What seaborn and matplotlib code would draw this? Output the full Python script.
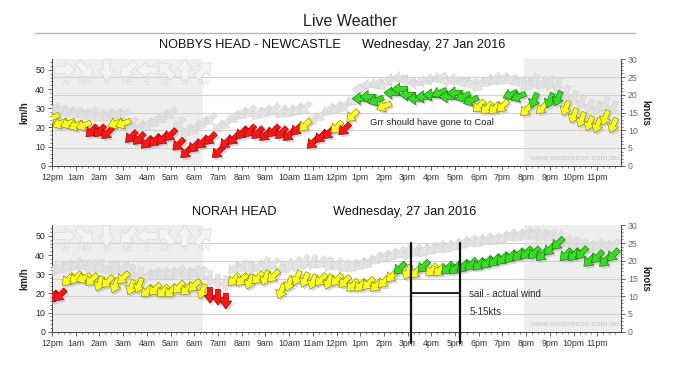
import numpy as np
import pandas as pd
import matplotlib
matplotlib.use('Agg')
import matplotlib.pyplot as plt
from matplotlib.path import Path
from matplotlib.markers import MarkerStyle
from matplotlib.transforms import Affine2D
from matplotlib.lines import Line2D
import seaborn as sns

# observations every 20 minutes (hours after midnight)
obs_hours = np.arange(72) / 3

# NOBBYS HEAD - NEWCASTLE
nobbys_kmh = [25, 22, 22, 21, 21, 18, 18, 17, 22, 22, 15, 14,
              12, 13, 14, 16, 11, 7, 10, 12, 14, 7, 12, 14,
              17, 18, 17, 16, 18, 17, 16, 19, 21, 12, 15, 17,
              20, 19, 26, 35, 36, 34, 31, 38, 40, 37, 35, 36,
              37, 38, 36, 38, 36, 34, 31, 30, 30, 31, 37, 36,
              29, 34, 30, 34, 35, 30, 26, 24, 22, 21, 25, 21]
nobbys_gust = [30, 29, 28, 28, 27, 27, 26, 26, 27, 27, 22, 20,
               21, 23, 25, 27, 22, 18, 19, 22, 24, 20, 22, 25,
               27, 28, 27, 28, 29, 28, 28, 29, 30, 24, 26, 29,
               30, 31, 34, 40, 42, 43, 42, 45, 46, 44, 43, 44,
               45, 46, 44, 45, 44, 43, 42, 44, 45, 45, 45, 44,
               42, 44, 43, 43, 42, 38, 35, 33, 31, 30, 32, 30]
nobbys_dir = ('ENE ENE ENE ENE ENE NE NE NE ENE ENE NE NE '
              'NE NE NE NE NE NE NE NE NE NE NE NE '
              'NE NE NE NE NE NE NE NE NE NE NE NE '
              'NE NE NE E E ENE ENE E E E E E '
              'E ENE E E ENE ENE NE NE NE NE ENE ENE '
              'NE NNE NE NNE NNE NNE NNE NNE NNE NNE NNE NNE').split()

# NORAH HEAD
norah_kmh = [18, 19, 27, 28, 28, 27, 25, 26, 24, 28, 23, 24,
             21, 22, 21, 21, 23, 22, 24, 21, 19, 18, 16, 27,
             27, 26, 28, 28, 29, 21, 25, 28, 27, 26, 27, 26,
             27, 26, 24, 24, 25, 24, 26, 29, 33, 31, 31, 34,
             32, 32, 33, 33, 34, 35, 35, 36, 37, 38, 39, 40,
             41, 41, 40, 43, 46, 40, 40, 41, 37, 39, 37, 40]
norah_gust = [32, 33, 34, 35, 35, 34, 34, 33, 33, 33, 31, 30,
              29, 30, 30, 30, 31, 30, 31, 30, 28, 26, 25, 33,
              34, 33, 34, 35, 35, 33, 34, 35, 36, 36, 36, 35,
              35, 34, 34, 35, 36, 38, 39, 40, 41, 41, 42, 42,
              43, 44, 44, 45, 46, 47, 47, 48, 48, 49, 50, 50,
              51, 51, 50, 50, 49, 47, 46, 45, 44, 45, 44, 45]
norah_dir = ('NE NE NE NE ENE NE NNE NE NNE NE NNE NNE '
             'NE NE NE NE NE NE NE NNE N N N NE '
             'NE NNE NE NNE NE NNE NNE NNE NNE NNE NE NNE '
             'NE NE NE NE NE NE NE NE NE NNE NE NE '
             'NE NE NE NE NE NE NE NE NE NE NE NE '
             'NE NE NE NE NE NE NE NE NE NE NE NE').split()

hour_labels = ['12pm', '1am', '2am', '3am', '4am', '5am', '6am', '7am', '8am',
               '9am', '10am', '11am', '12pm', '1pm', '2pm', '3pm', '4pm', '5pm',
               '6pm', '7pm', '8pm', '9pm', '10pm', '11pm']
compass = ['W', 'NW', 'N', 'NE', 'E', 'SE', 'S', 'SW']
compass_hours = [0.55, 1.4, 2.3, 3.2, 4.0, 4.8, 5.6, 6.4]
bearing = {'N': 0, 'NNE': 22.5, 'NE': 45, 'ENE': 67.5, 'E': 90, 'SE': 135,
           'S': 180, 'SW': 225, 'W': 270, 'NW': 315}
night_spans = [(0, 6.37), (19.9, 24)]
grid_knots = [5, 10, 15, 20, 25]
band_colors = {'light': '#ff1414', 'moderate': '#ffff1e', 'strong': '#36dc24'}
KMH_PER_KNOT = 1.852

# block arrow pointing along +x, scaled to unit length
arrow = Path([(-0.5, -0.16), (0.0, -0.16), (0.0, -0.38), (0.5, 0.0),
              (0.0, 0.38), (0.0, 0.16), (-0.5, 0.16), (-0.5, -0.16)],
             [Path.MOVETO] + [Path.LINETO] * 6 + [Path.CLOSEPOLY])
arrow_markers = {d: MarkerStyle(arrow, transform=Affine2D().rotate_deg(-90 - b))
                 for d, b in bearing.items()}

sns.set_theme(style='ticks')
plt.rcParams['font.family'] = ['Liberation Sans', 'DejaVu Sans']


def draw_panel(ax, kmh, gust, dirs):
    df = pd.DataFrame({'hour': obs_hours, 'kmh': kmh, 'gust': gust, 'dir': dirs})
    df['band'] = pd.cut(df['kmh'], [0, 19.5, 32, 100],
                        labels=['light', 'moderate', 'strong']).astype(str)

    for a, b in night_spans:
        ax.axvspan(a, b, color='#eeeeee', lw=0, zorder=0)
    for k in grid_knots:
        ax.axhline(k * KMH_PER_KNOT, color='#d2d2d2', lw=0.8, zorder=1)

    # faint compass key
    key = pd.DataFrame({'hour': compass_hours, 'kmh': [50] * len(compass), 'dir': compass})
    sns.scatterplot(data=key, x='hour', y='kmh', style='dir', markers=arrow_markers,
                    s=230, color='#f4f4f4', edgecolor='#dedede', linewidth=0.7,
                    legend=False, ax=ax, zorder=2)
    for h, lab in zip(compass_hours, compass):
        ax.text(h, 43.6, lab, ha='center', va='center', fontsize=6.5, color='#dcdcdc')

    # gusts in grey behind
    sns.scatterplot(data=df, x='hour', y='gust', style='dir', markers=arrow_markers,
                    s=130, color='#dddddd', edgecolor='#cacaca', linewidth=0.3,
                    alpha=0.8, legend=False, ax=ax, zorder=3)
    # soft shadow under the average-wind arrows
    shadow = df.assign(hour=df['hour'] + 0.08, kmh=df['kmh'] - 1.2)
    sns.scatterplot(data=shadow, x='hour', y='kmh', style='dir', markers=arrow_markers,
                    s=130, color='#bdbdbd', linewidth=0, alpha=0.6,
                    legend=False, ax=ax, zorder=3.5)
    # average wind
    sns.scatterplot(data=df, x='hour', y='kmh', hue='band', palette=band_colors,
                    style='dir', markers=arrow_markers, s=130, linewidth=0.45,
                    edgecolor='k', legend=False, ax=ax, zorder=4)
    pts = ax.collections[-1]
    ec = pts.get_facecolors().copy()
    ec[:, :3] *= 0.5
    pts.set_edgecolors(ec)

    ax.set_xlim(0, 24)
    ax.set_ylim(0, 30 * KMH_PER_KNOT)
    ax.set_xticks(range(24))
    ax.set_xticklabels(hour_labels, fontsize=6, color='#333333')
    ax.set_xticks(np.arange(0, 24, 0.25), minor=True)
    ax.set_yticks(range(0, 51, 10))
    ax.set_yticks(np.arange(0, 56, 2), minor=True)
    ax.tick_params(axis='both', which='major', length=3, width=0.6, pad=2,
                   labelsize=6.3, color='#444444')
    ax.tick_params(axis='both', which='minor', length=1.5, width=0.5, color='#444444')
    ax.set_xlabel('')
    ax.set_ylabel('km/h', fontsize=7, fontweight='bold')
    ax.yaxis.set_label_coords(-0.04, 0.5)
    for s in ['top', 'right']:
        ax.spines[s].set_visible(False)
    for s in ['left', 'bottom']:
        ax.spines[s].set_color('#444444')
        ax.spines[s].set_linewidth(0.7)

    ax2 = ax.twinx()
    ax2.set_ylim(0, 30)
    ax2.set_yticks(range(0, 31, 5))
    ax2.set_yticks(range(0, 31), minor=True)
    ax2.tick_params(axis='y', which='major', length=3, width=0.6, pad=2,
                    labelsize=6.3, labelcolor='#666666', color='#444444')
    ax2.tick_params(axis='y', which='minor', length=1.5, width=0.5, color='#444444')
    ax2.set_ylabel('knots', fontsize=7, fontweight='bold', rotation=-90)
    ax2.yaxis.set_label_coords(1.052, 0.5)
    for s in ['top', 'left', 'bottom']:
        ax2.spines[s].set_visible(False)
    ax2.spines['right'].set_color('#444444')
    ax2.spines['right'].set_linewidth(0.7)

    ax.text(23.9, 3.5, 'www.seabreeze.com.au', ha='right', va='center',
            fontsize=6, color='#c8c8c8', zorder=5)
    return ax2


fig = plt.figure(figsize=(7, 3.7), dpi=100)
fig.patch.set_facecolor('white')

fig.text(0.5, 1 - 22 / 370, 'Live Weather', ha='center', va='center',
         fontsize=11.5, color='#222222')
fig.add_artist(Line2D([35 / 700, 635 / 700], [1 - 33 / 370] * 2,
                      color='#a8bac6', lw=1))

ax_top = fig.add_axes([52 / 700, 1 - 165.7 / 370, 569 / 700, 106.4 / 370])
draw_panel(ax_top, nobbys_kmh, nobbys_gust, nobbys_dir)
fig.text(250 / 700, 1 - 45 / 370, 'NOBBYS HEAD - NEWCASTLE', ha='center',
         va='center', fontsize=9.2, color='#111111')
fig.text(434 / 700, 1 - 45 / 370, 'Wednesday, 27 Jan 2016', ha='center',
         va='center', fontsize=9.2, color='#111111')
ax_top.text(13.4, 22.3, 'Grr should have gone to Coal', ha='left', va='center',
            fontsize=6.8, color='#222222', zorder=6)

ax_bot = fig.add_axes([52 / 700, 1 - 331.7 / 370, 569 / 700, 106.4 / 370])
draw_panel(ax_bot, norah_kmh, norah_gust, norah_dir)
fig.text(234 / 700, 1 - 212 / 370, 'NORAH HEAD', ha='center', va='center',
         fontsize=9.2, color='#111111')
fig.text(405 / 700, 1 - 212 / 370, 'Wednesday, 27 Jan 2016', ha='center',
         va='center', fontsize=9.2, color='#111111')

# hand-drawn sailing window
sail_start, sail_end = 15.13, 17.2
sail_top, sail_bottom, sail_bar = 46.5, -6.0, 20.2
for h in (sail_start, sail_end):
    ax_bot.plot([h, h], [sail_top, sail_bottom], color='#111111', lw=1.6,
                clip_on=False, zorder=7)
ax_bot.plot([sail_start, sail_end], [sail_bar, sail_bar], color='#111111', lw=1.3, zorder=7)
ax_bot.text(17.6, 19.5, 'sail - actual wind', ha='left', va='center', fontsize=7,
            color='#333333', zorder=7)
ax_bot.text(17.6, 10.5, '5-15kts', ha='left', va='center', fontsize=7,
            color='#333333', zorder=7)

fig.savefig('out.png', dpi=100)
